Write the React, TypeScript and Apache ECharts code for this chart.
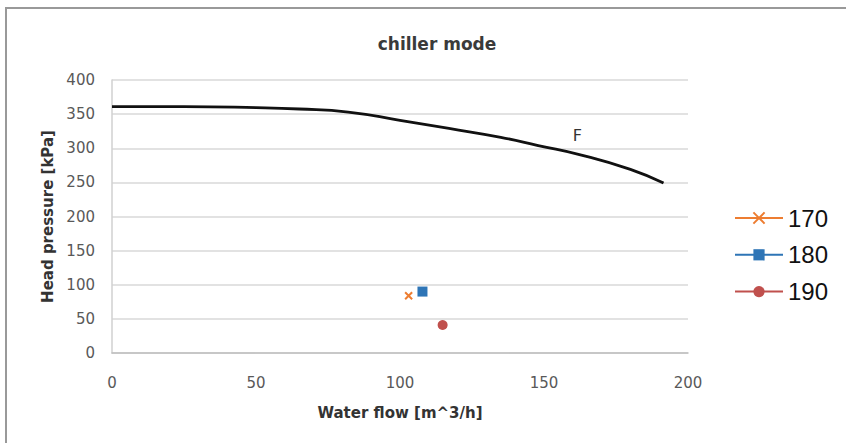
import React, { useEffect, useRef } from "react";
import * as echarts from "echarts";

const titleText = "chiller mode";
const xAxisName = "Water flow [m^3/h]";
const yAxisName = "Head pressure [kPa]";
const curveName = "F";
const curveData: [number, number][] = [
  [0, 361], [25, 361], [50, 359.5], [65, 357.5], [82, 353], [100, 341],
  [117, 329], [135, 316], [148, 304], [163, 290], [180, 269], [191.5, 249],
];
const curveLabelIndex = 9;
const pointNames = ["170", "180", "190"];
const pointValues: [number, number][] = [[103, 84], [107.8, 90], [114.8, 41]];
const pointColors = ["#ED7D31", "#2E75B6", "#C0504D"];
const pointSymbols = ["path://M0,0L10,10M10,0L0,10", "rect", "circle"];
const pointSizes = [7, 10, 10];

export default function App() {
  const ref = useRef<HTMLDivElement>(null);
  useEffect(() => {
    if (!ref.current) return;
    const chart = echarts.init(ref.current, undefined, { renderer: "svg" });
    const font = "DejaVu Sans";
    const pointSeries = pointNames.map((n, i) => ({
      name: n,
      type: "line",
      data: [pointValues[i]],
      symbol: pointSymbols[i],
      symbolSize: pointSizes[i],
      showSymbol: true,
      lineStyle: { color: pointColors[i], width: 3 },
      itemStyle: i === 0
        ? { color: pointColors[i], borderColor: pointColors[i], borderWidth: 2 }
        : { color: pointColors[i] },
      color: pointColors[i],
      z: 5,
    }));
    chart.setOption({
      animation: false,
      title: {
        text: titleText,
        left: 432,
        top: 30,
        textAlign: "center",
        textStyle: { fontFamily: font, fontSize: 17, fontWeight: "bold", color: "#3a3a3a" },
      },
      grid: { left: 112, top: 80, right: 158, bottom: 90, containLabel: false },
      legend: {
        data: pointNames,
        orient: "vertical",
        left: 729,
        top: 201,
        itemWidth: 48,
        itemHeight: 14,
        itemGap: 12.8,
        textStyle: { fontFamily: "Liberation Sans", fontSize: 24, lineHeight: 24, color: "#111" },
      },
      graphic: [
        {
          type: "rect",
          shape: { x: 6, y: 8, width: 1000, height: 1000 },
          style: { fill: "none", stroke: "#999", lineWidth: 2 },
          silent: true,
          z: -1,
        },
      ],
      xAxis: {
        type: "value",
        min: 0,
        max: 200,
        interval: 50,
        name: xAxisName,
        nameLocation: "middle",
        nameGap: 52,
        nameTextStyle: { fontFamily: font, fontSize: 15, fontWeight: "bold", color: "#333" },
        axisLine: { show: true, lineStyle: { color: "#bfbfbf", width: 1.5 } },
        axisTick: { show: false },
        splitLine: { show: false },
        axisLabel: { fontFamily: font, fontSize: 15, color: "#595959", margin: 22 },
      },
      yAxis: {
        type: "value",
        min: 0,
        max: 400,
        interval: 50,
        name: yAxisName,
        nameLocation: "middle",
        nameGap: 25,
        nameRotate: 90,
        nameTextStyle: { fontFamily: font, fontSize: 15, fontWeight: "bold", color: "#333" },
        axisLine: { show: true, lineStyle: { color: "#d0d0d0", width: 1.5 } },
        axisTick: { show: false },
        splitLine: { show: true, lineStyle: { color: "#d9d9d9", width: 1.5 } },
        axisLabel: { fontFamily: font, fontSize: 15, color: "#595959", margin: 17 },
      },
      series: [
        {
          name: curveName,
          type: "line",
          smooth: 0.5,
          showSymbol: true,
          symbol: "circle",
          symbolSize: 0,
          data: curveData.map((d, i) =>
            i === curveLabelIndex
              ? {
                  value: d,
                  label: {
                    show: true,
                    formatter: curveName,
                    position: "top",
                    offset: [-4, -7],
                    fontFamily: font,
                    fontSize: 16,
                    color: "#333",
                  },
                }
              : { value: d }
          ),
          lineStyle: { color: "#111", width: 2.8 },
          itemStyle: { color: "#111" },
          emphasis: { disabled: true },
          z: 3,
        },
        ...pointSeries,
      ],
    });
    return () => chart.dispose();
  }, []);
  return (
    <div
      ref={ref}
      style={{ position: "absolute", left: 0, top: 0, width: 846, height: 443, background: "#fff" }}
    />
  );
}
